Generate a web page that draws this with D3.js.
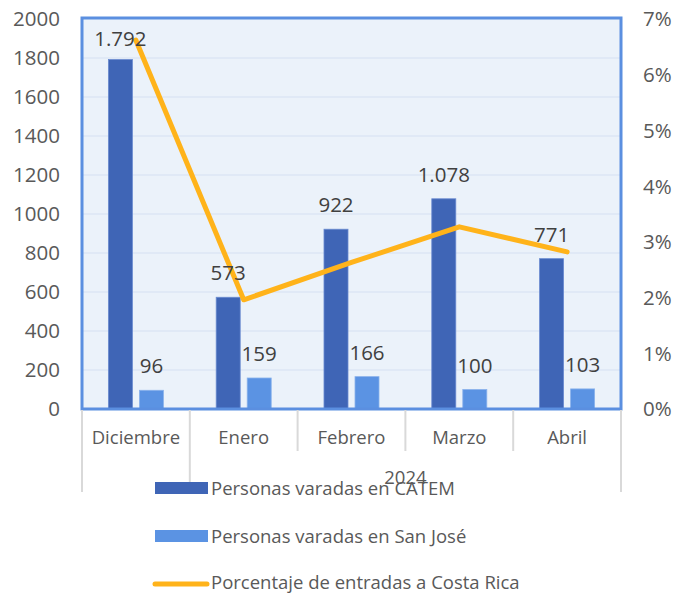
<!DOCTYPE html>
<html>
<head>
<meta charset="utf-8">
<script src="https://cdn.jsdelivr.net/npm/d3@7"></script>
<style>
  html, body { margin: 0; padding: 0; background: #ffffff; }
  svg { display: block; }
  text { font-family: "Open Sans", Lato, sans-serif; }
</style>
</head>
<body>
<svg id="chart" width="680" height="594"></svg>
<script>
// ---- Data ----
const categories = ["Diciembre", "Enero", "Febrero", "Marzo", "Abril"];
const catem = [1792, 573, 922, 1078, 771];
const sanJose = [96, 159, 166, 100, 103];
const pctEntradas = [6.62, 1.96, 2.63, 3.27, 2.82];
const leftTicks = [0, 200, 400, 600, 800, 1000, 1200, 1400, 1600, 1800, 2000];
const rightTicks = [0, 1, 2, 3, 4, 5, 6, 7];
const groupLabels = ["", "2024"];
const groupSpans = [[0, 0], [1, 4]];
const seriesNames = ["Personas varadas en CATEM", "Personas varadas en San José", "Porcentaje de entradas a Costa Rica"];

// ---- Layout ----
const svg = d3.select("#chart");
const plot = { left: 82, right: 621, top: 18, bottom: 409 };
const colDark = "#3F65B6", colLight = "#5B93E3", colLine = "#FFB31A";

const x = d3.scaleBand().domain(categories).range([plot.left, plot.right]).paddingInner(0).paddingOuter(0);
const xs = d3.scaleBand().domain(["catem", "sj"]).range([0, x.bandwidth()]).paddingInner(0.2258).paddingOuter(0.851);
const y = d3.scaleLinear().domain([0, 2000]).range([409, 19]);
const y2 = d3.scaleLinear().domain([0, 7]).range([409, 19]);

// plot background
svg.append("rect")
  .attr("x", plot.left).attr("y", plot.top)
  .attr("width", plot.right - plot.left).attr("height", plot.bottom - plot.top)
  .attr("fill", "#EBF2FA");

// gridlines
svg.append("g").selectAll("line")
  .data(leftTicks.filter(d => d > 0 && d < 2000))
  .join("line")
  .attr("x1", plot.left).attr("x2", plot.right)
  .attr("y1", d => y(d)).attr("y2", d => y(d))
  .attr("stroke", "#DCE6F4").attr("stroke-width", 1.5);

// bars
const gBars = svg.append("g");
gBars.selectAll("rect.catem")
  .data(categories)
  .join("rect")
  .attr("class", "catem")
  .attr("x", (d) => x(d) + xs("catem"))
  .attr("width", xs.bandwidth())
  .attr("y", (d, i) => y(catem[i]))
  .attr("height", (d, i) => y(0) - y(catem[i]))
  .attr("fill", colDark).attr("stroke", "#6A8BD0").attr("stroke-width", 0.8);
gBars.selectAll("rect.sj")
  .data(categories)
  .join("rect")
  .attr("class", "sj")
  .attr("x", (d) => x(d) + xs("sj"))
  .attr("width", xs.bandwidth())
  .attr("y", (d, i) => y(sanJose[i]))
  .attr("height", (d, i) => y(0) - y(sanJose[i]))
  .attr("fill", colLight).attr("stroke", "#8AB2EC").attr("stroke-width", 0.8);

// plot border
svg.append("rect")
  .attr("x", plot.left).attr("y", plot.top)
  .attr("width", plot.right - plot.left).attr("height", plot.bottom - plot.top)
  .attr("fill", "none").attr("stroke", "#5B8FE0").attr("stroke-width", 3);

// line
const line = d3.line()
  .x((d, i) => x(categories[i]) + x.bandwidth() / 2)
  .y(d => y2(d));
svg.append("path")
  .datum(pctEntradas)
  .attr("d", line)
  .attr("fill", "none").attr("stroke", colLine).attr("stroke-width", 5)
  .attr("stroke-linejoin", "round").attr("stroke-linecap", "round");

// data labels
const fmt = v => v >= 1000 ? d3.format(",")(v).replace(",", ".") : String(v);
const gLab = svg.append("g").attr("font-size", 20.5).attr("fill", "#404040").attr("text-anchor", "middle");
gLab.selectAll("text.catem")
  .data(categories)
  .join("text")
  .attr("x", d => x(d) + xs("catem") + xs.bandwidth() / 2)
  .attr("y", (d, i) => Math.max(y(catem[i]) - 17, 46))
  .text((d, i) => fmt(catem[i]));
gLab.selectAll("text.sj")
  .data(categories)
  .join("text")
  .attr("x", d => x(d) + xs("sj") + xs.bandwidth() / 2)
  .attr("y", (d, i) => y(sanJose[i]) - 17)
  .text((d, i) => fmt(sanJose[i]));

// left axis labels
svg.append("g").selectAll("text")
  .data(leftTicks)
  .join("text")
  .attr("x", 60).attr("y", d => y(d))
  .attr("dy", "0.36em")
  .attr("text-anchor", "end")
  .attr("font-size", 20.5).attr("fill", "#595959")
  .text(d => d);

// right axis labels
svg.append("g").selectAll("text")
  .data(rightTicks)
  .join("text")
  .attr("x", 643).attr("y", d => y2(d))
  .attr("dy", "0.36em")
  .attr("text-anchor", "start")
  .attr("font-size", 20.5).attr("fill", "#595959")
  .text(d => d + "%");

// category axis: separators
const boundaries = categories.map(c => x(c)).concat([plot.right]);
const groupEdges = new Set();
groupSpans.forEach(s => { groupEdges.add(s[0]); groupEdges.add(s[1] + 1); });
svg.append("g").selectAll("line")
  .data(boundaries)
  .join("line")
  .attr("x1", d => d).attr("x2", d => d)
  .attr("y1", 410)
  .attr("y2", (d, i) => groupEdges.has(i) ? 492 : 451)
  .attr("stroke", "#D9D9D9").attr("stroke-width", 2);

// category labels
svg.append("g").selectAll("text")
  .data(categories)
  .join("text")
  .attr("x", d => x(d) + x.bandwidth() / 2)
  .attr("y", 444)
  .attr("text-anchor", "middle")
  .attr("font-size", 18.5).attr("fill", "#595959")
  .text(d => d);

// group labels
svg.append("g").selectAll("text")
  .data(groupLabels)
  .join("text")
  .attr("x", (d, i) => (x(categories[groupSpans[i][0]]) + x(categories[groupSpans[i][1]]) + x.bandwidth()) / 2)
  .attr("y", 484)
  .attr("text-anchor", "middle")
  .attr("font-size", 18.5).attr("fill", "#595959")
  .text(d => d);

// legend
const legY = [488, 536, 583];
const gLeg = svg.append("g");
gLeg.append("rect").attr("x", 155).attr("y", legY[0] - 6).attr("width", 53).attr("height", 12).attr("fill", colDark);
gLeg.append("rect").attr("x", 155).attr("y", legY[1] - 6).attr("width", 53).attr("height", 12).attr("fill", colLight);
gLeg.append("line").attr("x1", 155).attr("x2", 207).attr("y1", legY[2] + 1).attr("y2", legY[2] + 1)
  .attr("stroke", colLine).attr("stroke-width", 5).attr("stroke-linecap", "round");
gLeg.selectAll("text")
  .data(seriesNames)
  .join("text")
  .attr("x", 211).attr("y", (d, i) => legY[i])
  .attr("dy", (d, i) => i === 2 ? "0.3em" : "0.36em")
  .attr("font-size", 18.5).attr("fill", "#595959")
  .text(d => d);
</script>
</body>
</html>
